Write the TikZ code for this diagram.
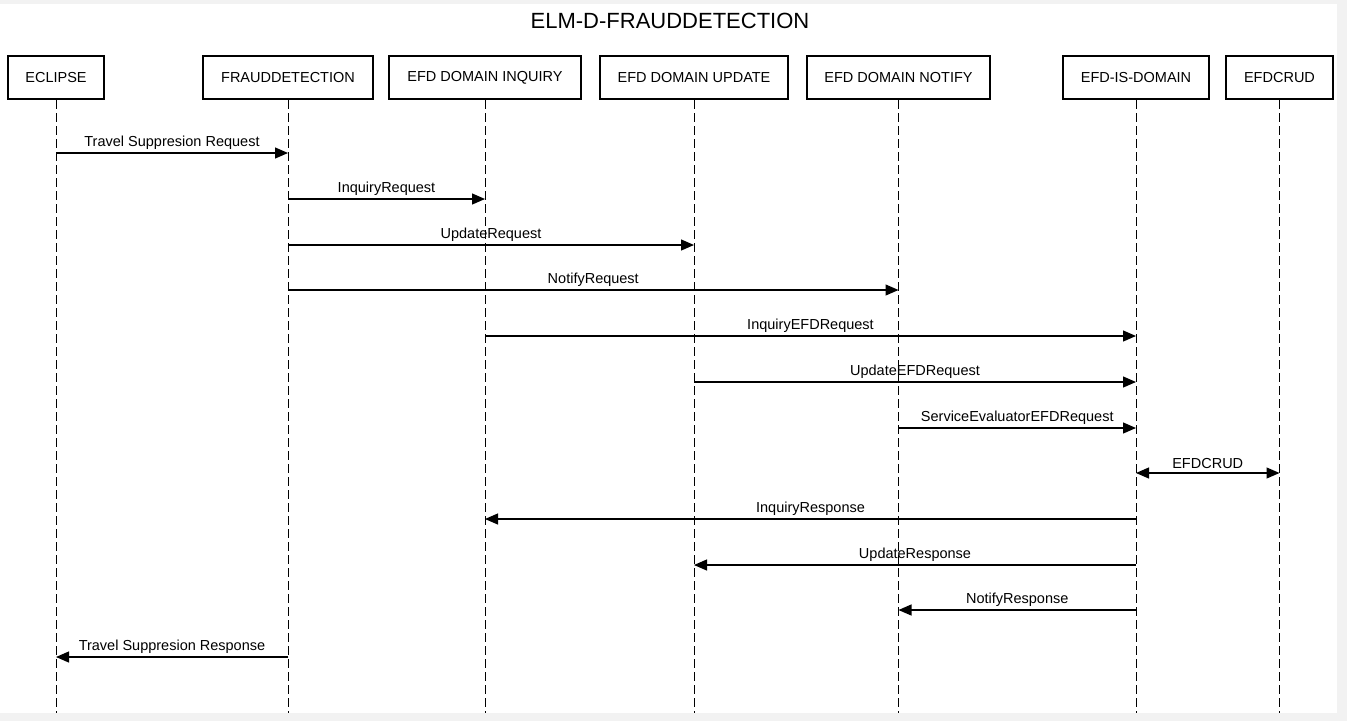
\documentclass[tikz,border=0pt]{standalone}
\usepackage{fontspec}
\setmainfont{Liberation Sans}
\usetikzlibrary{positioning,arrows.meta}

\tikzset{
  actor/.style={draw,line width=2.4pt,minimum height=42.6pt,inner sep=0pt,
    font=\fontsize{14.5}{17}\selectfont},
  lifeline/.style={line width=1pt,dash pattern=on 9pt off 4pt},
  msg/.style={line width=1.2pt,-{Triangle[length=13pt,width=11pt]}},
  msglabel/.style={above=0pt,font=\fontsize{14.5}{17}\selectfont}
}

\begin{document}
\begin{tikzpicture}[x=1pt,y=-1pt]
  % frame
  \fill[black!5] (0,0) rectangle (1347,721);
  \fill[white] (0,4) rectangle (1337,713);
  \useasboundingbox (0,0) rectangle (1347,721);

  \node[font=\fontsize{22}{26}\selectfont] (title) at (670,21) {ELM-D-FRAUDDETECTION};

  % participants
  \node[actor,minimum width=95.6pt] (eclipse) at (56,77.5) {ECLIPSE};
  \node[actor,minimum width=169.6pt,right=97pt of eclipse] (fraud) {FRAUDDETECTION};
  \node[actor,minimum width=191.6pt,right=14pt of fraud] (inquiry) {EFD DOMAIN INQUIRY};
  \node[actor,minimum width=187.6pt,right=17pt of inquiry] (update) {EFD DOMAIN UPDATE};
  \node[actor,minimum width=182.6pt,right=17pt of update] (notify) {EFD DOMAIN NOTIFY};
  \node[actor,minimum width=145.6pt,right=71pt of notify] (isdomain) {EFD-IS-DOMAIN};
  \node[actor,minimum width=106.6pt,right=15pt of isdomain] (efdcrud) {EFDCRUD};

  % lifelines
  \foreach \p in {eclipse,fraud,inquiry,update,notify,isdomain,efdcrud}
    \draw[lifeline] (\p.south) -- (\p.south |- 0,713);

  % messages
  \foreach \from/\to/\y/\txt in {
      eclipse/fraud/153/Travel Suppresion Request,
      fraud/inquiry/199/InquiryRequest,
      fraud/update/245/UpdateRequest,
      fraud/notify/290/NotifyRequest,
      inquiry/isdomain/336/InquiryEFDRequest,
      update/isdomain/382/UpdateEFDRequest,
      notify/isdomain/428/ServiceEvaluatorEFDRequest,
      isdomain/inquiry/519/InquiryResponse,
      isdomain/update/565/UpdateResponse,
      isdomain/notify/610/NotifyResponse,
      fraud/eclipse/657/Travel Suppresion Response}
    \draw[msg] (\from |- 0,\y) -- node[msglabel] {\txt} (\to |- 0,\y);

  \draw[msg,{Triangle[length=13pt,width=11pt]}-{Triangle[length=13pt,width=11pt]}]
    (isdomain |- 0,473) -- node[msglabel] {EFDCRUD} (efdcrud |- 0,473);
\end{tikzpicture}
\end{document}
